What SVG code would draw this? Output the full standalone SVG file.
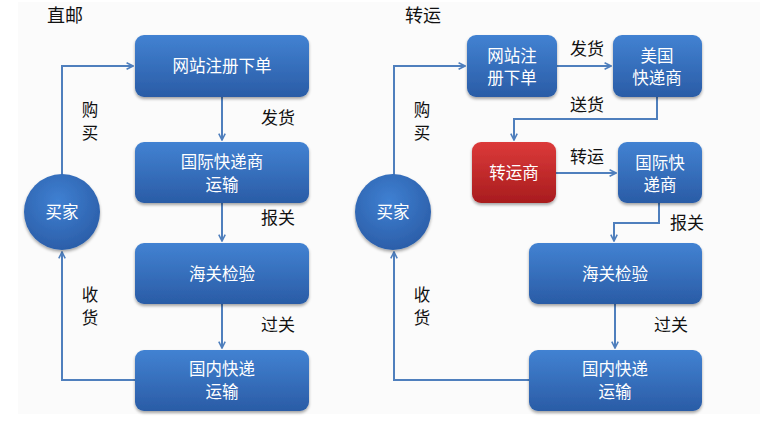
<svg xmlns="http://www.w3.org/2000/svg" width="762" height="446" viewBox="0 0 762 446">
<defs>
<linearGradient id="gb" x1="0" y1="0" x2="0" y2="1">
<stop offset="0" stop-color="#4282d2"/>
<stop offset="1" stop-color="#2a5ca6"/>
</linearGradient>
<linearGradient id="gr" x1="0" y1="0" x2="0" y2="1">
<stop offset="0" stop-color="#dc3a3a"/>
<stop offset="1" stop-color="#a81c1e"/>
</linearGradient>
<radialGradient id="gc" cx="0.45" cy="0.35" r="0.7">
<stop offset="0" stop-color="#3f80d2"/>
<stop offset="1" stop-color="#2a5ca6"/>
</radialGradient>
<filter id="sh" x="-10%" y="-10%" width="120%" height="130%">
<feDropShadow dx="0" dy="2" stdDeviation="1.8" flood-color="#000" flood-opacity="0.35"/>
</filter>
<marker id="ar" viewBox="0 0 10 10" refX="9" refY="5" markerWidth="8" markerHeight="8" markerUnits="userSpaceOnUse" orient="auto">
<path d="M1,1 L9,5 L1,9" fill="none" stroke="#4f7fbd" stroke-width="2"/>
</marker>
</defs>
<style>
.box{fill:url(#gb);filter:url(#sh);}
.red{fill:url(#gr);filter:url(#sh);}
.circ{fill:url(#gc);filter:url(#sh);}
.t{font-family:"Noto Sans CJK SC","Liberation Sans",sans-serif;font-size:16.5px;fill:#ffffff;text-anchor:middle;}
.l{font-family:"Noto Sans CJK SC","Liberation Sans",sans-serif;font-size:17px;fill:#111111;text-anchor:middle;}
.v{font-size:16.5px;}
.c{fill:none;stroke:#4f7fbd;stroke-width:2;}
</style>
<rect x="0" y="0" width="762" height="446" fill="#ffffff"/>
<rect x="18" y="2" width="742" height="412" fill="#fbfbfb"/>

<text class="l" x="65" y="22" style="font-size:18px">直邮</text>
<text class="l" x="423" y="22" style="font-size:18px">转运</text>

<g id="connectors">
<path class="c" d="M62,175 V66 H133" marker-end="url(#ar)"/>
<path class="c" d="M222,97 V140" marker-end="url(#ar)"/>
<path class="c" d="M222,203 V241" marker-end="url(#ar)"/>
<path class="c" d="M222,304 V348" marker-end="url(#ar)"/>
<path class="c" d="M135,380 H62 V252" marker-end="url(#ar)"/>

<path class="c" d="M394,175 V66 H465" marker-end="url(#ar)"/>
<path class="c" d="M557,66 H611" marker-end="url(#ar)"/>
<path class="c" d="M657,97 V119 H514 V140" marker-end="url(#ar)"/>
<path class="c" d="M556,173 H616" marker-end="url(#ar)"/>
<path class="c" d="M659,203 V223 H614 V241" marker-end="url(#ar)"/>
<path class="c" d="M615,304 V348" marker-end="url(#ar)"/>
<path class="c" d="M529,380 H394 V252" marker-end="url(#ar)"/>
</g>

<g id="labels">
<text class="l v" x="90" y="116">购</text>
<text class="l v" x="90" y="139">买</text>
<text class="l v" x="90" y="301">收</text>
<text class="l v" x="90" y="324">货</text>
<text class="l" x="278" y="124">发货</text>
<text class="l" x="278" y="224">报关</text>
<text class="l" x="278" y="331">过关</text>

<text class="l v" x="422" y="116">购</text>
<text class="l v" x="422" y="139">买</text>
<text class="l v" x="422" y="301">收</text>
<text class="l v" x="422" y="324">货</text>
<text class="l" x="587" y="55">发货</text>
<text class="l" x="587" y="111">送货</text>
<text class="l" x="587" y="163">转运</text>
<text class="l" x="687" y="229">报关</text>
<text class="l" x="671" y="331">过关</text>
</g>

<g id="buyer1"><circle class="circ" cx="62" cy="212" r="38"/><text class="t" x="62" y="218">买家</text></g>
<g id="d_order"><rect class="box" x="135" y="35" width="174" height="62" rx="9"/><text class="t" x="222" y="72">网站注册下单</text></g>
<g id="d_intl"><rect class="box" x="135" y="142" width="174" height="61" rx="9"/><text class="t" x="222" y="168">国际快递商</text><text class="t" x="222" y="191">运输</text></g>
<g id="d_customs"><rect class="box" x="135" y="243" width="174" height="61" rx="9"/><text class="t" x="222" y="280">海关检验</text></g>
<g id="d_domestic"><rect class="box" x="135" y="350" width="174" height="61" rx="9"/><text class="t" x="222" y="375">国内快递</text><text class="t" x="222" y="398">运输</text></g>

<g id="buyer2"><circle class="circ" cx="393" cy="212" r="38"/><text class="t" x="393" y="218">买家</text></g>
<g id="t_order"><rect class="box" x="467" y="35" width="90" height="62" rx="9"/><text class="t" x="512" y="62">网站注</text><text class="t" x="512" y="84">册下单</text></g>
<g id="t_us"><rect class="box" x="613" y="35" width="89" height="62" rx="9"/><text class="t" x="657" y="62">美国</text><text class="t" x="657" y="84">快递商</text></g>
<g id="t_forwarder"><rect class="red" x="472" y="142" width="84" height="61" rx="9"/><text class="t" x="514" y="179">转运商</text></g>
<g id="t_intl"><rect class="box" x="618" y="142" width="84" height="61" rx="9"/><text class="t" x="660" y="169">国际快</text><text class="t" x="660" y="191">递商</text></g>
<g id="t_customs"><rect class="box" x="529" y="243" width="173" height="61" rx="9"/><text class="t" x="615" y="280">海关检验</text></g>
<g id="t_domestic"><rect class="box" x="529" y="350" width="173" height="61" rx="9"/><text class="t" x="615" y="375">国内快递</text><text class="t" x="615" y="398">运输</text></g>
</svg>
